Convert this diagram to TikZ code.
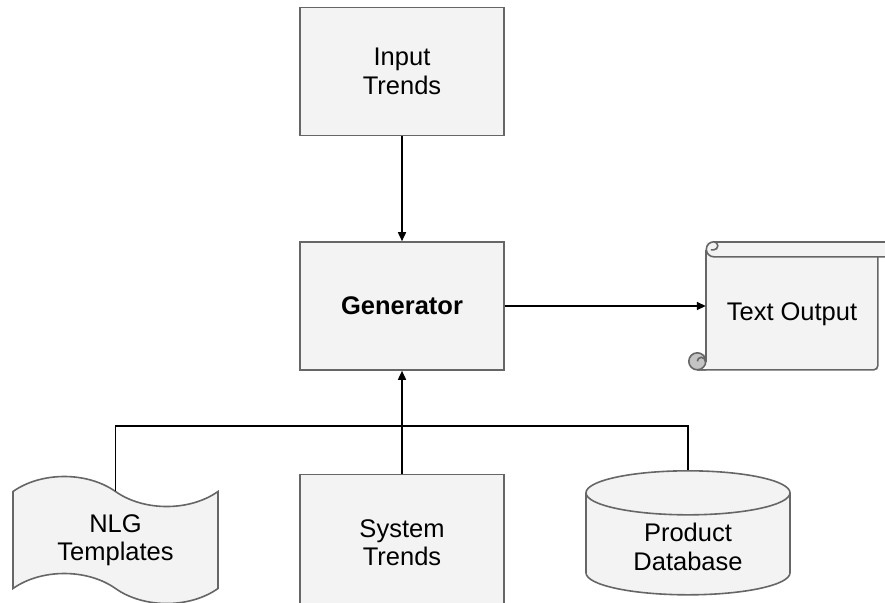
\documentclass[tikz,border=0pt]{standalone}
\usepackage{fontspec}
\setmainfont{Liberation Sans}
\usetikzlibrary{arrows.meta,positioning,shapes.geometric,shapes.symbols}
\definecolor{boxfill}{HTML}{F3F3F3}
\definecolor{boxline}{HTML}{666666}
\definecolor{curlfill}{HTML}{C4C4C4}
\tikzset{
	base/.style = {draw = boxline, fill = boxfill, line width = 1.6pt, align = center, font = \fontsize{25.5}{28.5}\selectfont},
	block/.style = {base, rectangle, minimum width = 204pt, minimum height = 128pt},
	tapebox/.style = {base, tape, tape bend top = out and in, tape bend bottom = out and in, tape bend height = 30pt, minimum width = 205pt, minimum height = 127pt},
	database/.style = {base, cylinder, shape border rotate = 90, aspect = 0.38, minimum width = 204pt, minimum height = 124pt},
	scrollbody/.style = {fill = boxfill, minimum width = 172pt, minimum height = 128pt, text height = 33pt, text depth = 5pt, align = center, font = \fontsize{25.5}{28.5}\selectfont},
	scrollline/.style = {draw = boxline, line width = 1.6pt},
	link/.style = {line width = 1.6pt},
	>={Triangle[length = 9pt, width = 8pt]}
}

\begin{document}
\begin{tikzpicture}[x = 1pt, y = -1pt]
	\useasboundingbox (0,0) rectangle (885,602);

	\node (gen) [block] at (402,306) {\bfseries Generator};
	\node (input) [block, above=105pt of gen] {Input\\Trends};
	\node (sys) [block, below=103pt of gen, minimum height = 136pt] {System\\Trends};
	\node (out) [scrollbody, right=201pt of gen] {Text Output};
	\node (nlg) [tapebox] at (115.5,540) {NLG\\Templates};
	\node (db) [database] at (688,547) {Product\\Database};

	% scroll around the output
	\begin{scope}[shift = {(out.north west)}]
		\fill [boxfill] (0,0) rectangle (190,15);
		\draw [scrollline] (8,0) -- (190,0);
		\draw [scrollline] (190,15) -- (8,15) arc [start angle = 90, end angle = 270, radius = 7.5]
			arc [start angle = 270, end angle = 450, radius = 4] -- (5,8);
		\draw [scrollline] (0,8) -- (0,120);
		\draw [scrollline, rounded corners = 4pt] (172,15) -- (172,128) -- (-8.5,128);
		\filldraw [scrollline, fill = curlfill] (-8.5,119.5) circle [radius = 8.5];
		\draw [scrollline] (-8.5,128) -- (0,128) (-8.5,119.5) arc [start angle = 180, end angle = 360, radius = 4] -- (0,112);
	\end{scope}

	\draw [->, link] (input) -- (gen);
	\draw [->, link] (gen) -- (out);
	\draw [->, link] (sys) -- (gen);
	\coordinate [above=48pt of sys] (bus);
	\draw [link] (nlg.north) |- (bus) -| (db.north);
\end{tikzpicture}
\end{document}
